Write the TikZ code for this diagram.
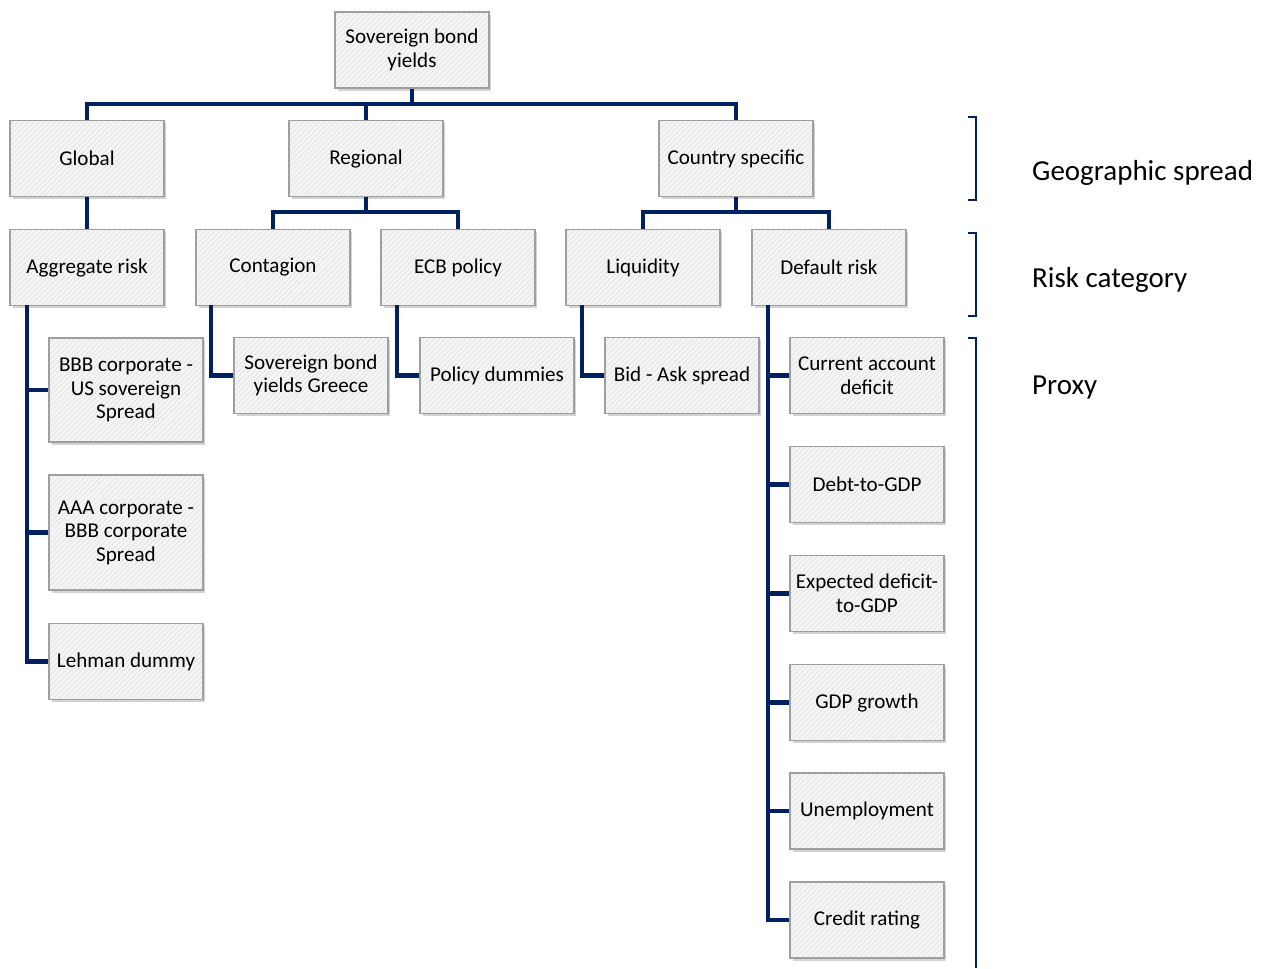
\documentclass[tikz,border=0pt]{standalone}
\usepackage{fontspec}
\setmainfont{Carlito}
\usetikzlibrary{patterns,shadows}

\definecolor{navy}{RGB}{0,32,96}

\tikzset{
  box/.style={draw=gray!75, line width=0.6pt,
    drop shadow={shadow xshift=0.05cm, shadow yshift=-0.05cm, opacity=0.35, fill=gray},
    preaction={fill=gray!8},
    preaction={pattern=north east lines, pattern color=gray!22},
    minimum width=3.08cm, minimum height=1.52cm, inner sep=1pt,
    align=center, font=\fontsize{12}{13.4}\selectfont},
  link/.style={navy, line width=2.3pt},
  brack/.style={navy, line width=0.8pt},
  lab/.style={anchor=west, font=\fontsize{16.5}{19}\selectfont}
}

\begin{document}
\begin{tikzpicture}[x=0.02cm, y=-0.02cm]
    \useasboundingbox (0,0) rectangle (1264,968);

    \node[box] (top) at (412,50) {Sovereign bond\\yields};

    \node[box] (glob) at (87,158.5) {Global};
    \node[box] (reg) at (366,158.5) {Regional};
    \node[box] (ctry) at (736,158.5) {Country specific};

    \node[box] (agg) at (87,267.5) {Aggregate risk};
    \node[box] (cont) at (273,267.5) {Contagion};
    \node[box] (ecb) at (458,267.5) {ECB policy};
    \node[box] (liq) at (643,267.5) {Liquidity};
    \node[box] (def) at (829,267.5) {Default risk};

    \node[box, minimum height=2.08cm] (bbb) at (126,390) {BBB corporate -\\US sovereign\\Spread};
    \node[box, minimum height=2.3cm] (aaa) at (126,532.5) {AAA corporate -\\BBB corporate\\Spread};
    \node[box] (leh) at (126,661.5) {Lehman dummy};

    \node[box] (gre) at (311,375.5) {Sovereign bond\\yields Greece};
    \node[box] (pold) at (497,375.5) {Policy dummies};
    \node[box] (bid) at (682,375.5) {Bid - Ask spread};

    \node[box] (cad) at (867,375.5) {Current account\\deficit};
    \node[box] (debt) at (867,484.5) {Debt-to-GDP};
    \node[box] (exp) at (867,593.5) {Expected deficit-\\to-GDP};
    \node[box] (gdp) at (867,702.5) {GDP growth};
    \node[box] (unem) at (867,811) {Unemployment};
    \node[box] (cred) at (867,920) {Credit rating};

    % tree lines
    \coordinate (bus1) at (412,104);
    \coordinate (bus2) at (366,212);
    \coordinate (bus3) at (736,212);
    \coordinate (sp1) at (27,305);
    \coordinate (sp2) at (211,305);
    \coordinate (sp3) at (397,305);
    \coordinate (sp4) at (582,305);
    \coordinate (sp5) at (768,305);

    \draw[link] (top.south) -- (bus1);
    \draw[link] (glob.north) |- (bus1);
    \draw[link] (reg.north) |- (bus1);
    \draw[link] (ctry.north) |- (bus1);

    \draw[link] (glob.south) -- (agg.north);

    \draw[link] (reg.south) -- (bus2);
    \draw[link] (cont.north) |- (bus2);
    \draw[link] (ecb.north) |- (bus2);

    \draw[link] (ctry.south) -- (bus3);
    \draw[link] (liq.north) |- (bus3);
    \draw[link] (def.north) |- (bus3);

    \draw[link] (sp1) |- (bbb.west);
    \draw[link] (sp1) |- (aaa.west);
    \draw[link] (sp1) |- (leh.west);

    \draw[link] (sp2) |- (gre.west);
    \draw[link] (sp3) |- (pold.west);
    \draw[link] (sp4) |- (bid.west);

    \draw[link] (sp5) |- (cad.west);
    \draw[link] (sp5) |- (debt.west);
    \draw[link] (sp5) |- (exp.west);
    \draw[link] (sp5) |- (gdp.west);
    \draw[link] (sp5) |- (unem.west);
    \draw[link] (sp5) |- (cred.west);

    % brackets
    \draw[brack] (968,117) -- (976,117) -- (976,200) -- (968,200);
    \draw[brack] (968,233) -- (976,233) -- (976,316) -- (968,316);
    \draw[brack] (968,338) -- (976,338) -- (976,968);

    \node[lab] (geo) at (1026,173) {Geographic spread};
    \node[lab] (risk) at (1026,280) {Risk category};
    \node[lab] (prox) at (1026,388) {Proxy};
\end{tikzpicture}
\end{document}
